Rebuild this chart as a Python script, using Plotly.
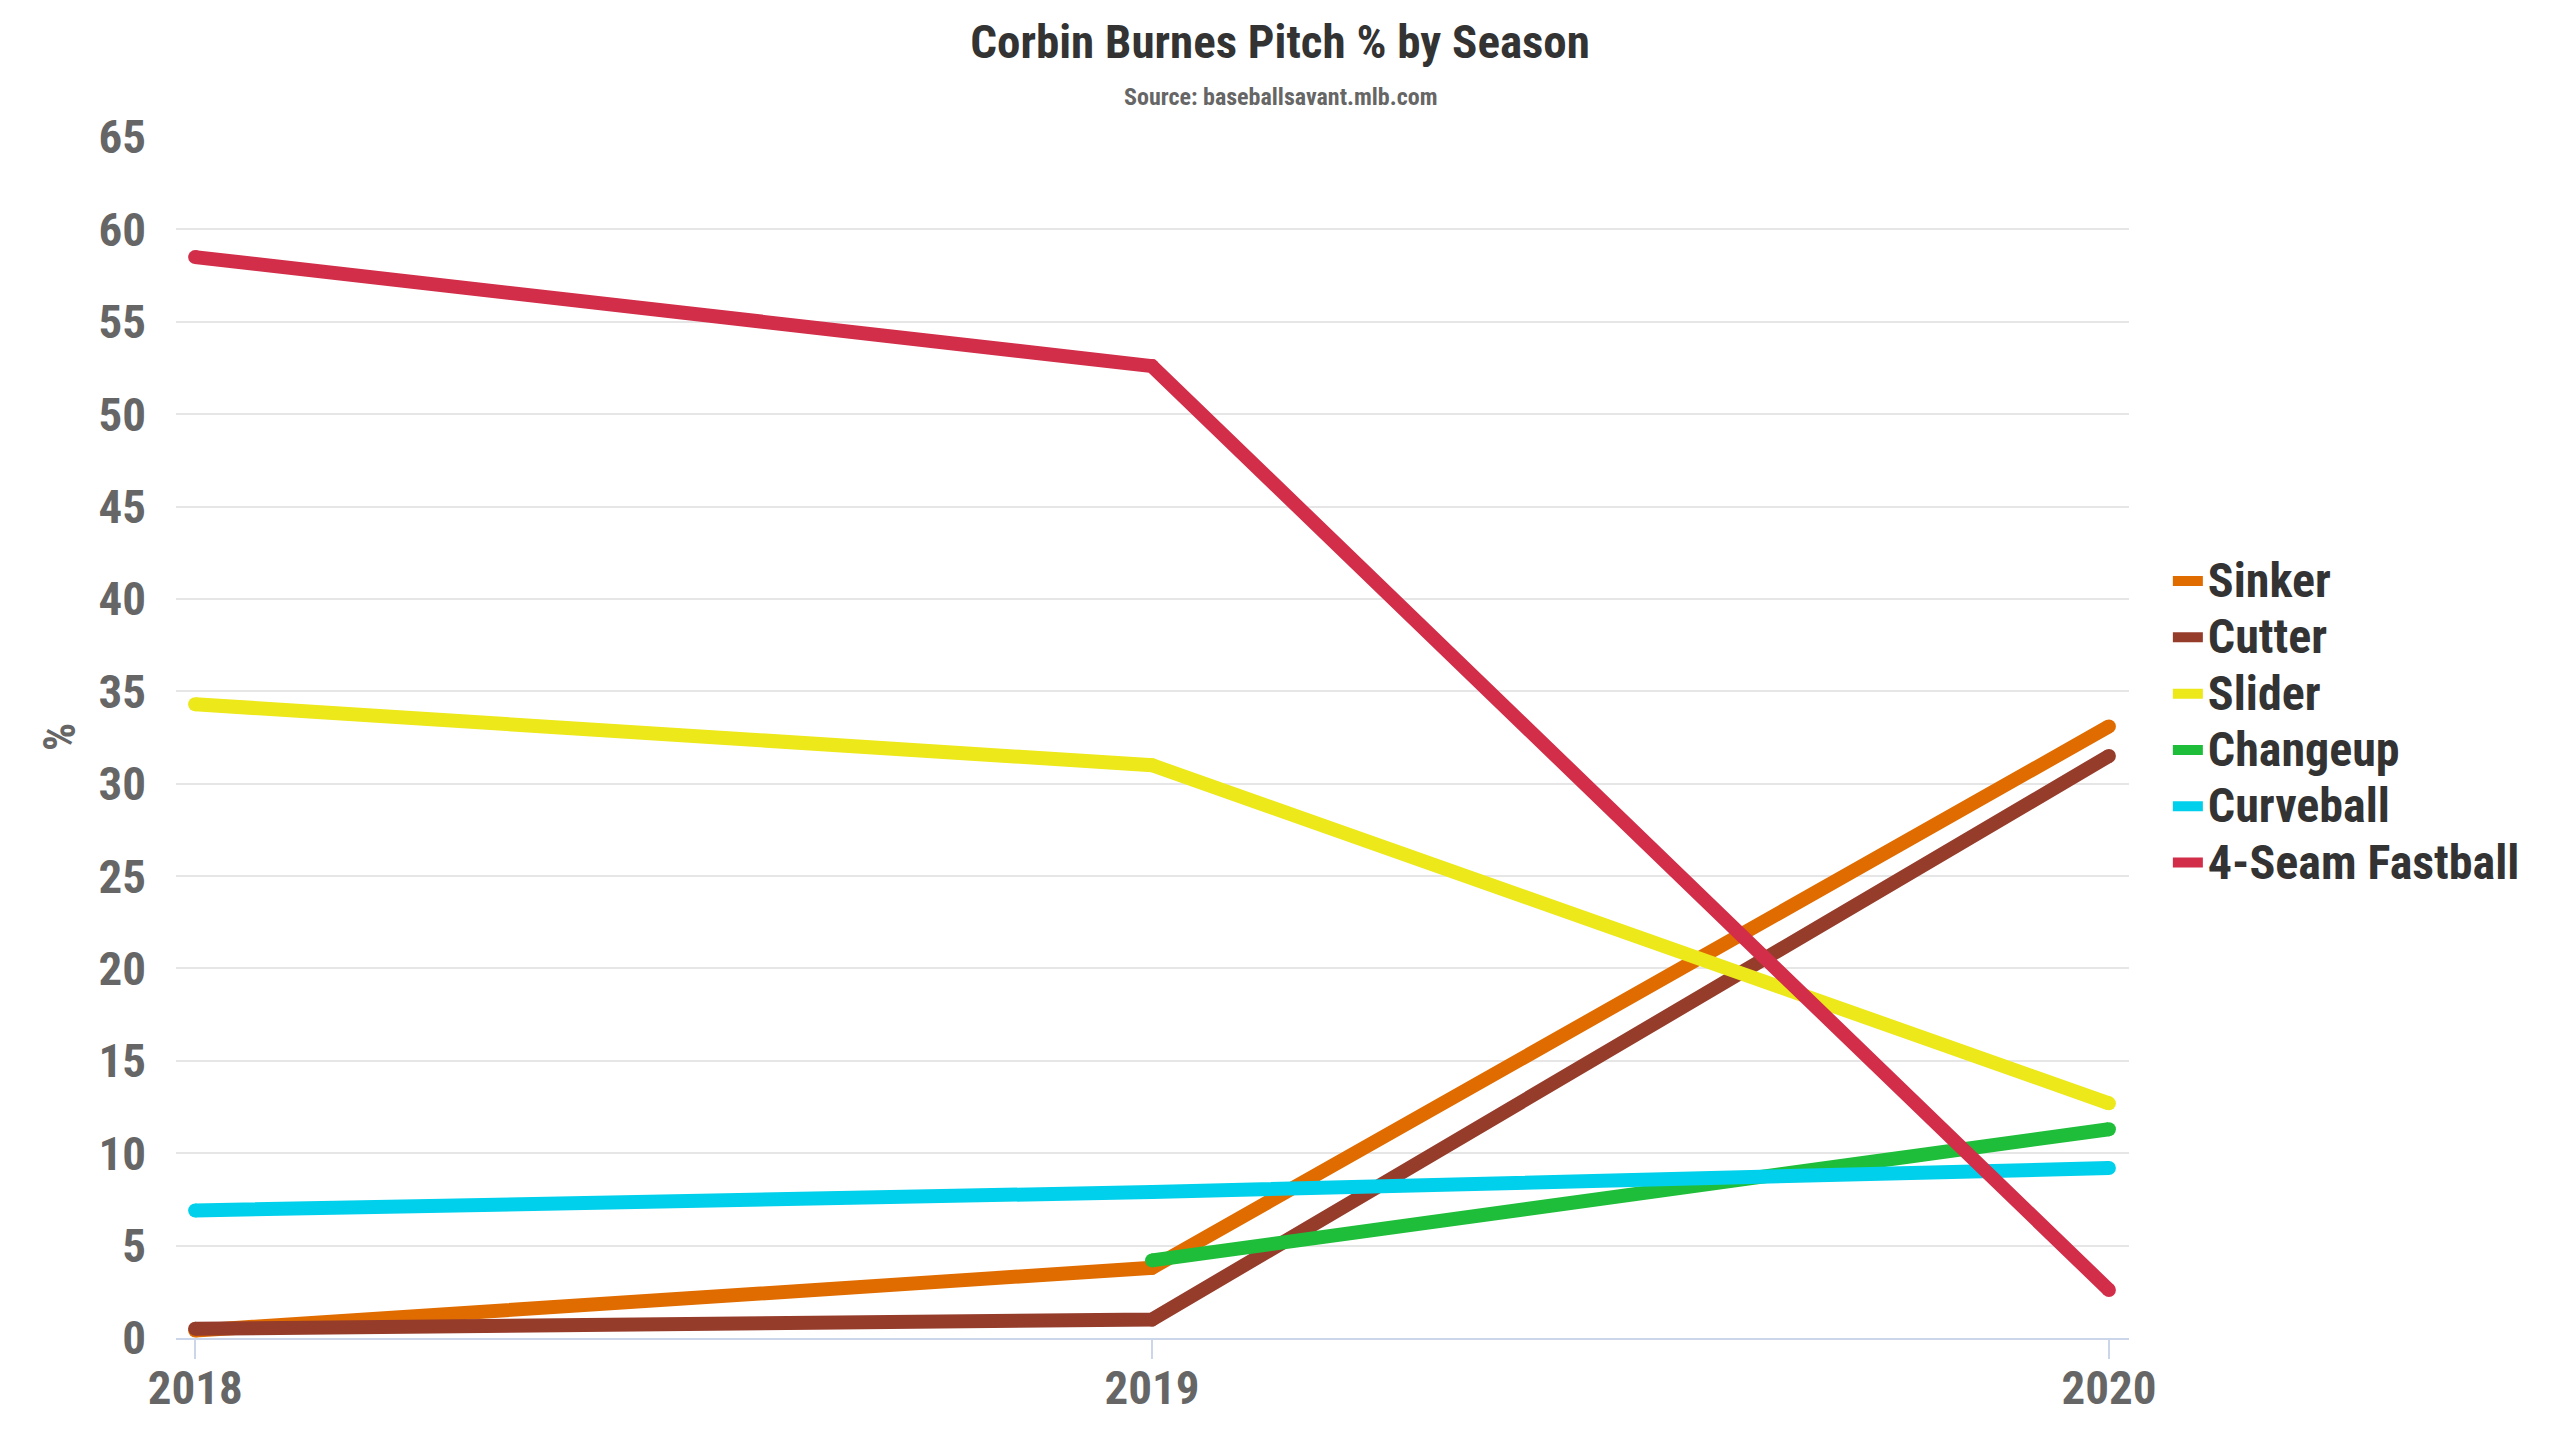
import plotly.graph_objects as go

# pitch usage by season
seasons = [2018, 2019, 2020]
pitches = ["Sinker", "Cutter", "Slider", "Changeup", "Curveball", "4-Seam Fastball"]
sinker = [0.4, 3.8, 33.1]
cutter = [0.5, 1.0, 31.5]
slider = [34.3, 31.0, 12.7]
changeup = [None, 4.2, 11.3]
curveball = [6.9, 7.9, 9.2]
fastball = [58.5, 52.6, 2.6]
colors = ["#e06c00", "#963c2b", "#ece81a", "#1fbe3a", "#00d0eb", "#d22d49"]

font_main = "Roboto Condensed, Liberation Sans Narrow, Roboto, sans-serif"
lw = 14

fig = go.Figure()
for name, vals, col in zip(pitches, [sinker, cutter, slider, changeup, curveball, fastball], colors):
    fig.add_trace(go.Scatter(x=seasons, y=vals, mode="lines", legendgroup=name,
                             name="<b><span style='font-size:48px'>%s</span></b>" % name,
                             line=dict(color=col, width=lw)))
    # round ends / joints
    fig.add_trace(go.Scatter(x=seasons, y=vals, mode="markers", legendgroup=name,
                             showlegend=False, hoverinfo="skip",
                             marker=dict(color=col, size=lw, line=dict(width=0))))

fig.update_layout(
    width=2560, height=1440,
    paper_bgcolor="white", plot_bgcolor="white",
    margin=dict(l=168, r=439, t=129, b=110),
    font=dict(family=font_main),
    title=dict(text="<b>Corbin Burnes Pitch % by Season</b>", x=0.4969, xref="container",
               xanchor="center", y=1 - 34 / 1440, yanchor="middle",
               font=dict(size=47, color="#333333", family=font_main)),
    legend=dict(x=1.0199, y=0.513, xanchor="left", yanchor="middle",
                font=dict(size=41, color="#333333", family=font_main),
                tracegroupgap=0, itemwidth=30),
    showlegend=True,
)
fig.add_annotation(text="<b>Source: baseballsavant.mlb.com</b>", xref="paper", yref="paper",
                   x=0.5653, y=1.0333, xanchor="center", yanchor="middle", showarrow=False,
                   font=dict(size=24, color="#666666", family=font_main))
fig.add_annotation(text="<b>%</b>", xref="paper", yref="paper", x=-0.0594, y=0.5004,
                   xanchor="center", yanchor="middle", textangle=-90, showarrow=False,
                   font=dict(size=44, color="#666666", family=font_main))

fig.update_xaxes(range=[2017.980, 2020.021], tickvals=seasons,
                 ticktext=["<b>%d</b>" % s for s in seasons],
                 showgrid=False, zeroline=False, showline=True, linecolor="#ccd6eb", linewidth=2,
                 ticks="outside", ticklen=19, tickcolor="#ccd6eb", tickwidth=2,
                 ticklabelstandoff=-11,
                 tickfont=dict(size=47, color="#666666", family=font_main))
fig.update_yaxes(range=[0, 65], tickvals=list(range(0, 70, 5)),
                 ticktext=["<b>%d</b>" % v for v in range(0, 70, 5)],
                 showgrid=True, gridcolor="#e6e6e6", gridwidth=2, zeroline=False,
                 ticks="", ticklabelstandoff=29,
                 tickfont=dict(size=47, color="#666666", family=font_main))

fig.write_html("out.html")
